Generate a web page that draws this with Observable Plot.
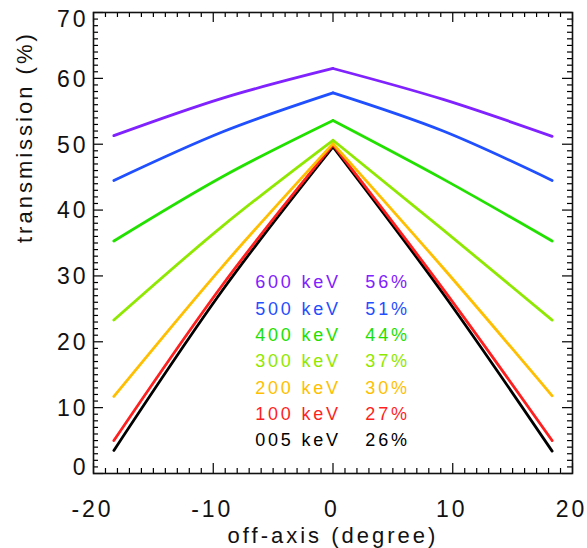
<!DOCTYPE html>
<html>
<head>
<meta charset="utf-8">
<script src="https://cdn.jsdelivr.net/npm/d3@7"></script>
<script src="https://cdn.jsdelivr.net/npm/@observablehq/plot@0.6"></script>
<style>
  html, body { margin: 0; padding: 0; background: #fff; }
  svg g[font-size="23"] text, svg g[font-size="23px"] text { letter-spacing: 3px; }
  svg g[font-size="22"] text, svg g[font-size="22px"] text { letter-spacing: 3px; }
  svg g[font-size="18"] text, svg g[font-size="18px"] text { letter-spacing: 2.8px; }
</style>
</head>
<body>
<div id="chart"></div>
<script>
// ---- data ----
const angles = [-18.3, -9.2, 0, 9.2, 18.3];           // off-axis (degree)
const energies = ["600 keV", "500 keV", "400 keV", "300 keV", "200 keV", "100 keV", "005 keV"];
const percents = ["56%", "51%", "44%", "37%", "30%", "27%", "26%"];
const colors   = ["#7f22ff", "#1f4fff", "#22e000", "#8fe800", "#ffbf00", "#ff1f1f", "#000000"];
const t600 = [51.3, 57.0, 61.5, 56.8, 51.2];
const t500 = [44.5, 51.9, 57.8, 52.0, 44.5];
const t400 = [35.3, 45.1, 53.6, 44.7, 35.3];
const t300 = [23.3, 37.6, 50.6, 37.0, 23.3];
const t200 = [11.7, 31.5, 50.1, 31.2, 11.8];
const t100 = [5.0, 28.7, 49.9, 28.0, 5.0];
const t005 = [3.5, 27.9, 49.6, 27.3, 3.4];
const xTicks = [-20, -10, 0, 10, 20];
const yTicks = [0, 10, 20, 30, 40, 50, 60, 70];

// ---- build table: each curve split into a left and a right branch meeting at the peak ----
const series = [t600, t500, t400, t300, t200, t100, t005];
const rows = [];
series.forEach((vals, s) => vals.forEach((v, i) => {
  const a = angles[i];
  if (a <= 0) rows.push({energy: energies[s], branch: energies[s] + "-L", angle: a, t: v});
  if (a >= 0) rows.push({energy: energies[s], branch: energies[s] + "-R", angle: a, t: v});
}));
const order = energies.slice().reverse();
rows.sort((a, b) => order.indexOf(a.energy) - order.indexOf(b.energy));

const xMinor = d3.range(-20, 21, 1).filter(d => !xTicks.includes(d));
const yMinor = d3.range(0, 71, 1).filter(d => !yTicks.includes(d));
const yMid = yTicks.filter(d => d !== 0 && d !== 70);

// layout
const W = 587, H = 548, ML = 93, MR = 15, MT = 12, MB = 75;
const FW = W - ML - MR, FH = H - MT - MB;
const xDom = [-20, 20], yDom = [0, 70];
const ux = px => px * (xDom[1] - xDom[0]) / FW;   // pixel length -> x units
const uy = px => px * (yDom[1] - yDom[0]) / FH;   // pixel length -> y units
const tk = {stroke: "#000", strokeWidth: 1.2};
const labelStyle = {tickSize: 0, fontSize: 23, fill: "#111", label: null, tickFormat: d => String(d)};

const chart = Plot.plot({
  width: W,
  height: H,
  marginLeft: ML,
  marginRight: MR,
  marginTop: MT,
  marginBottom: MB,
  style: {fontFamily: "'Liberation Sans', Arial, sans-serif", background: "#fff", color: "#111"},
  x: {domain: xDom},
  y: {domain: yDom},
  color: {domain: energies, range: colors},
  marks: [
    // inward ticks on all four sides
    Plot.ruleX(xTicks, {x: d => d, y1: yDom[0], y2: yDom[0] + uy(10), ...tk}),
    Plot.ruleX(xMinor, {x: d => d, y1: yDom[0], y2: yDom[0] + uy(5), ...tk}),
    Plot.ruleX(xTicks, {x: d => d, y1: yDom[1] - uy(10), y2: yDom[1], ...tk}),
    Plot.ruleX(xMinor, {x: d => d, y1: yDom[1] - uy(5), y2: yDom[1], ...tk}),
    Plot.ruleY(yTicks, {y: d => d, x1: xDom[0], x2: xDom[0] + ux(10), ...tk}),
    Plot.ruleY(yMinor, {y: d => d, x1: xDom[0], x2: xDom[0] + ux(5), ...tk}),
    Plot.ruleY(yTicks, {y: d => d, x1: xDom[1] - ux(10), x2: xDom[1], ...tk}),
    Plot.ruleY(yMinor, {y: d => d, x1: xDom[1] - ux(5), x2: xDom[1], ...tk}),
    // tick labels
    Plot.axisX(xTicks, {anchor: "bottom", tickPadding: 27, dx: -1, ...labelStyle}),
    Plot.axisY(yMid, {anchor: "left", tickPadding: 5, dy: 1, ...labelStyle}),
    Plot.axisY([70], {anchor: "left", tickPadding: 5, dy: 7, ...labelStyle}),
    Plot.axisY([0], {anchor: "left", tickPadding: 5, dy: -6, ...labelStyle}),
    // axis titles
    Plot.text(["off-axis (degree)"], {frameAnchor: "bottom", dy: 69, fontSize: 22, fill: "#111", text: d => d}),
    Plot.text(["transmission (%)"], {frameAnchor: "left", rotate: -90, dx: -69, fontSize: 22, fill: "#111", text: d => d}),
    // curves
    Plot.line(rows, {x: "angle", y: "t", z: "branch", stroke: "energy", strokeWidth: 2.8, curve: "monotone-x"}),
    // in-plot legend
    Plot.text(energies, {x: -6.5, y: (d, i) => 29 - 4 * i, text: d => d, fill: d => d, textAnchor: "start", fontSize: 18}),
    Plot.text(percents, {x: 2.7, y: (d, i) => 29 - 4 * i, text: d => d, fill: (d, i) => energies[i], textAnchor: "start", fontSize: 18}),
    Plot.frame({stroke: "#111", strokeWidth: 1.6})
  ]
});
document.getElementById("chart").appendChild(chart);
</script>
</body>
</html>
